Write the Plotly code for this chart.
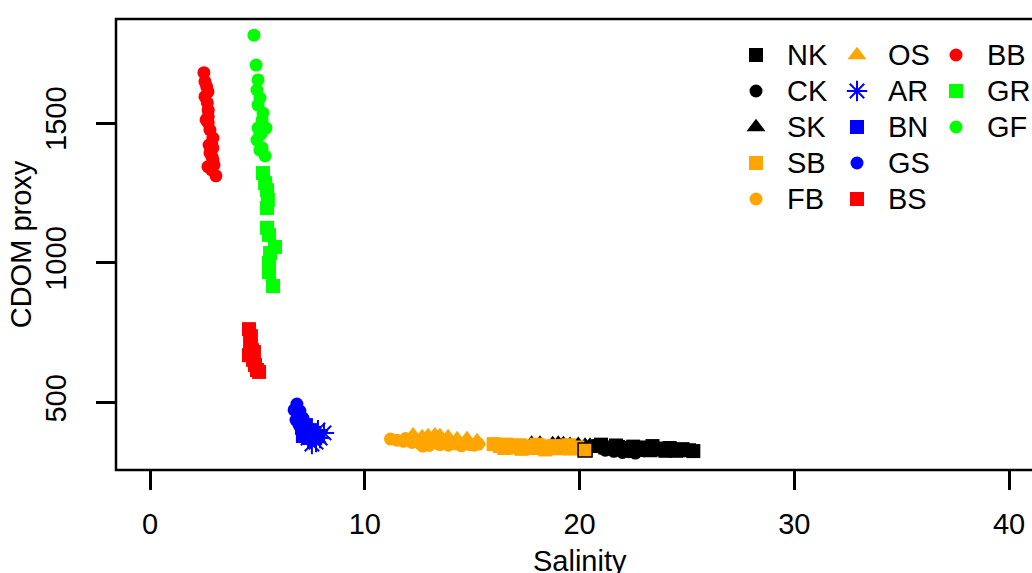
import plotly.graph_objects as go

# ---- observations: salinity vs CDOM proxy, one pair of lists per site ----
NK_sal = [20.9, 21.2, 21.5, 21.8, 22.1, 22.4, 22.7, 23.0, 23.3, 23.6, 23.9, 24.2, 24.5, 24.8, 25.1, 25.3, 21.0, 21.7, 22.5, 23.4, 24.0]
NK_cdom = [345, 340, 336, 342, 334, 338, 332, 340, 330, 336, 333, 338, 328, 334, 330, 327, 350, 347, 343, 345, 328]

CK_sal = [21.2, 21.6, 22.0, 22.3, 22.6, 23.0, 22.2]
CK_cdom = [330, 326, 322, 325, 320, 328, 335]

SK_sal = [17.77, 18.16, 18.75, 19.01, 19.25, 19.56, 19.94, 20.26, 20.49]
SK_cdom = [354, 354, 352, 354, 352, 350, 350, 347, 347]

SB_sal = [16.0, 16.3, 16.6, 16.9, 17.2, 17.5, 17.8, 18.1, 18.4, 18.7, 19.0, 19.3, 19.6, 19.9, 16.5, 17.3, 18.0, 18.8, 19.5, 20.26]
SB_cdom = [352, 345, 350, 340, 348, 344, 338, 346, 333, 341, 337, 344, 336, 340, 338, 335, 350, 345, 348, 331]

FB_sal = [11.2, 11.5, 11.8, 12.0, 12.2, 12.4, 12.6, 12.8, 13.0, 13.2, 13.3, 13.5, 13.7, 13.9, 14.1, 14.3, 14.5, 14.7, 14.9, 15.1, 15.3, 11.9, 12.7, 13.4, 14.0]
FB_cdom = [370, 366, 362, 368, 358, 364, 352, 360, 347, 356, 362, 350, 358, 348, 356, 352, 346, 355, 350, 348, 352, 372, 345, 366, 360]

OS_sal = [12.25, 12.67, 12.95, 13.27, 13.50, 13.88, 14.30, 14.76, 15.23]
OS_cdom = [384, 377, 381, 384, 381, 377, 370, 370, 363]

AR_sal = [7.45, 7.64, 7.82, 7.92, 7.73, 7.54, 8.10, 7.36]
AR_cdom = [395, 381, 402, 374, 359, 352, 392, 374]

BN_sal = [7.08, 7.26, 7.45, 7.64, 7.26, 7.82, 7.12]
BN_cdom = [410, 395, 402, 392, 420, 381, 381]

GS_sal = [6.84, 6.71, 6.89, 6.80, 6.98, 7.12, 6.94]
GS_cdom = [495, 474, 456, 438, 470, 445, 420]

BS_sal = [4.61, 4.70, 4.66, 4.75, 4.61, 4.80, 4.89, 4.98, 5.08, 4.84]
BS_cdom = [763, 738, 713, 688, 670, 653, 635, 617, 610, 681]

BB_sal = [2.51, 2.56, 2.64, 2.70, 2.56, 2.67, 2.71, 2.71, 2.71, 2.79, 2.93, 2.87, 2.93, 2.79, 2.93, 2.70, 2.87, 3.07, 2.75, 2.89, 2.61, 2.98]
BB_cdom = [1680, 1648, 1630, 1612, 1594, 1572, 1546, 1523, 1500, 1475, 1446, 1428, 1411, 1393, 1368, 1344, 1332, 1311, 1421, 1378, 1511, 1350]

GR_sal = [5.26, 5.36, 5.45, 5.49, 5.45, 5.45, 5.54, 5.82, 5.59, 5.54, 5.54, 5.73]
GR_cdom = [1321, 1285, 1260, 1225, 1196, 1125, 1100, 1057, 1035, 999, 967, 917]

GF_sal = [4.84, 4.94, 5.03, 4.98, 5.12, 5.03, 5.26, 5.22, 5.03, 5.12, 5.40, 4.98, 5.22, 5.36, 5.12, 5.20]
GF_cdom = [1814, 1707, 1654, 1618, 1589, 1564, 1536, 1511, 1482, 1457, 1482, 1439, 1411, 1382, 1403, 1464]

# tick labels
x_ticks = [0, 10, 20, 30, 40]
y_ticks = [500, 1000, 1500]

# site styling: (name, sal, cdom, symbol, size, colour)
ORANGE = "#FFA500"
sites = [
    ("NK", NK_sal, NK_cdom, "square", 14, "black"),
    ("CK", CK_sal, CK_cdom, "circle", 13, "black"),
    ("SK", SK_sal, SK_cdom, "triangle-up", 16.5, "black"),
    ("SB", SB_sal, SB_cdom, "square", 14, ORANGE),
    ("FB", FB_sal, FB_cdom, "circle", 13, ORANGE),
    ("OS", OS_sal, OS_cdom, "triangle-up", 16.5, ORANGE),
    ("AR", AR_sal, AR_cdom, "asterisk-open", 17, "#0000FF"),
    ("BN", BN_sal, BN_cdom, "square", 14, "#0000FF"),
    ("GS", GS_sal, GS_cdom, "circle", 13, "#0000FF"),
    ("BS", BS_sal, BS_cdom, "square", 14, "#FF0000"),
    ("BB", BB_sal, BB_cdom, "circle", 13, "#FF0000"),
    ("GR", GR_sal, GR_cdom, "square", 14, "#00FF00"),
    ("GF", GF_sal, GF_cdom, "circle", 13, "#00FF00"),
]

FONT = "Liberation Sans, Arial, Helvetica, sans-serif"
FS = 29

W, H = 1032, 573
L, R, T, B = 116, 0, 19, 103
PW, PH = W - L - R, H - T - B

# x scale: 0 -> 150 px, 40 -> 1009 px; the frame runs from -1.6 to 41.6
X_PX0, X_PX_PER = 150, 21.475
FRAME_X_RIGHT = X_PX0 + 41.6 * X_PX_PER

# key layout (pixels): 5 rows per column, three columns
KEY_ROWS = 5
KEY_COL_X = [756, 857, 956]
KEY_ROW0_Y = 55
KEY_ROW_DY = 36
KEY_TEXT_DX = 29


def marker_for(name, sym, size, col, n):
    if sym == "asterisk-open":
        return dict(symbol=sym, size=size, color=col, line=dict(color=col, width=2))
    if name == "SB" and n > 1:
        # last SB sample sits on an NK square and shows its dark rim
        return dict(symbol=sym, size=size, color=col,
                    line=dict(color="black", width=[0] * (n - 1) + [1.5]))
    return dict(symbol=sym, size=size, color=col, line=dict(width=0))


fig = go.Figure()
for name, sal, cdom, sym, size, col in sites:
    fig.add_trace(go.Scatter(
        x=sal, y=cdom, mode="markers", name=name,
        marker=marker_for(name, sym, size, col, len(sal)),
        showlegend=False, hoverinfo="x+y+name",
    ))

# key: symbols on a pixel-space overlay axis, labels as annotations
annotations = []
for i, (name, sal, cdom, sym, size, col) in enumerate(sites):
    kx = KEY_COL_X[i // KEY_ROWS]
    ky = KEY_ROW0_Y + (i % KEY_ROWS) * KEY_ROW_DY
    fig.add_trace(go.Scatter(
        x=[kx], y=[ky], mode="markers", xaxis="x2", yaxis="y2",
        marker=marker_for(name, sym, size, col, 1),
        showlegend=False, hoverinfo="skip",
    ))
    annotations.append(dict(
        x=kx + KEY_TEXT_DX, y=ky, xref="x2", yref="y2", text=name,
        showarrow=False, xanchor="left", yanchor="middle",
        font=dict(family=FONT, size=FS, color="black"),
    ))

# x-axis title, centred under the full frame (which extends past the page)
annotations.append(dict(
    x=((L + FRAME_X_RIGHT) / 2 - L) / PW, y=(H - B - 561) / PH,
    xref="paper", yref="paper", text="Salinity", showarrow=False,
    xanchor="center", yanchor="middle",
    font=dict(family=FONT, size=FS, color="black"),
))

# plot frame (left, top, bottom; right edge lies past the page)
fig.add_shape(type="rect", xref="paper", yref="paper", x0=0, x1=1.05, y0=0, y1=1,
              line=dict(color="black", width=2.5), fillcolor="rgba(0,0,0,0)", layer="above")

fig.update_layout(
    width=W, height=H,
    margin=dict(l=L, r=R, t=T, b=B, pad=0),
    paper_bgcolor="white", plot_bgcolor="white",
    font=dict(family=FONT, size=FS, color="black"),
    showlegend=False,
    annotations=annotations,
    xaxis=dict(
        range=[(L - X_PX0) / X_PX_PER, (W - X_PX0) / X_PX_PER],
        tickmode="array", tickvals=x_ticks, ticktext=[str(v) for v in x_ticks],
        ticks="outside", ticklen=19, tickwidth=2.5, tickcolor="black",
        showgrid=False, zeroline=False, showline=False,
        tickfont=dict(family=FONT, size=FS), ticklabelstandoff=9,
        fixedrange=True,
    ),
    yaxis=dict(
        range=[259.4, 1871.8],
        tickmode="array", tickvals=y_ticks, ticktext=[str(v) for v in y_ticks],
        ticks="outside", ticklen=19, tickwidth=2.5, tickcolor="black",
        tickangle=-90,
        showgrid=False, zeroline=False, showline=False,
        tickfont=dict(family=FONT, size=FS), ticklabelstandoff=18,
        title=dict(text="CDOM proxy", font=dict(family=FONT, size=FS), standoff=0),
        fixedrange=True,
    ),
    xaxis2=dict(range=[L, W - R], overlaying="x", anchor="y2", visible=False, fixedrange=True),
    yaxis2=dict(range=[H - B, T], overlaying="y", anchor="x2", visible=False, fixedrange=True),
)

fig.write_html("out.html")
